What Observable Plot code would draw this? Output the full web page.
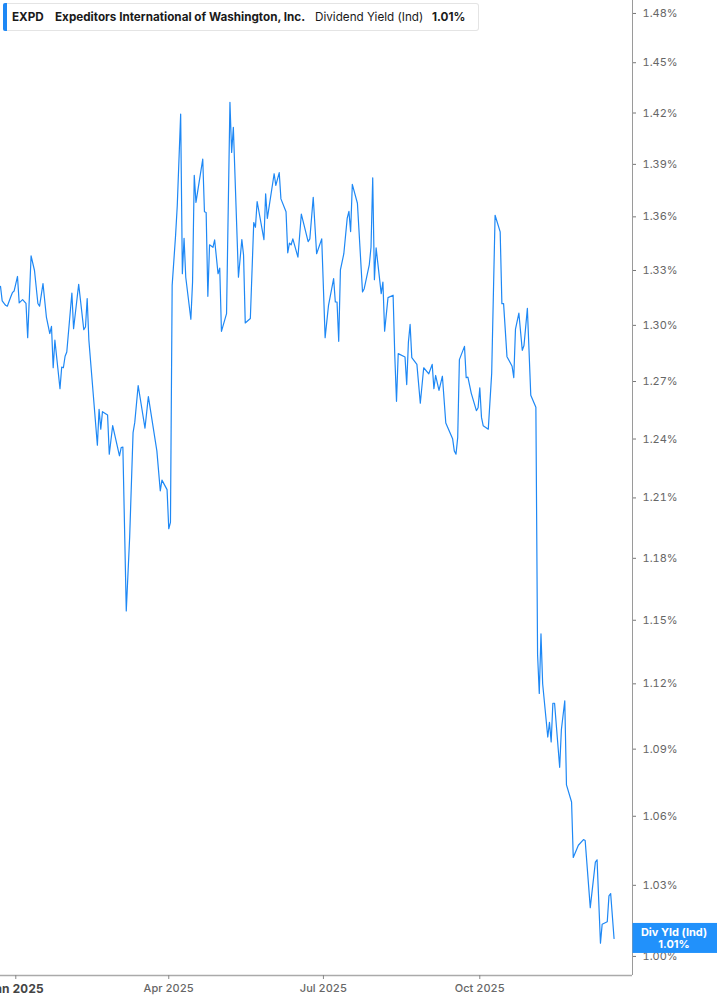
<!DOCTYPE html>
<html>
<head>
<meta charset="utf-8">
<script src="https://cdn.jsdelivr.net/npm/d3@7"></script>
<script src="https://cdn.jsdelivr.net/npm/@observablehq/plot@0.6"></script>
<style>
  html, body { margin: 0; padding: 0; background: #fff; }
  #wrap { position: relative; width: 717px; height: 1005px; overflow: hidden; font-family: Inter, Roboto, "DejaVu Sans", sans-serif; }
  #legend { position: absolute; left: 3px; top: 3px; width: 476px; height: 28px; background: #fff;
            border: 1px solid #e4e4e4; border-left: none; border-radius: 3px; box-sizing: border-box; }
  #legend .bar { position: absolute; left: 0; top: -1px; bottom: -1px; width: 4px; background: #1e88f5; border-radius: 2px 0 0 2px; }
  #legend span.t { position: absolute; top: 6px; font-size: 11.7px; color: #1a1a1a; white-space: nowrap; line-height: 14px; }
  #legend .b { font-weight: 700; }
</style>
</head>
<body>
<div id="wrap">
  <div id="chart"></div>
  <div id="legend">
    <div class="bar"></div>
    <span class="t b" id="l1"></span>
    <span class="t b" id="l2"></span>
    <span class="t" id="l3"></span>
    <span class="t b" id="l4"></span>
  </div>
</div>
<script>
// ---- data ----
const ticker = "EXPD";
const company = "Expeditors International of Washington, Inc.";
const metric = "Dividend Yield (Ind)";
const endLabel = "Div Yld (Ind)";

const dates = [
"2024-12-23","2024-12-24","2024-12-26","2024-12-27","2024-12-29","2024-12-30","2024-12-31",
"2025-01-02","2025-01-03","2025-01-05","2025-01-07","2025-01-08","2025-01-10","2025-01-12","2025-01-14","2025-01-15","2025-01-17","2025-01-19","2025-01-21","2025-01-22","2025-01-23","2025-01-24","2025-01-27","2025-01-28","2025-01-29","2025-01-30","2025-01-31",
"2025-02-03","2025-02-04","2025-02-07","2025-02-10","2025-02-11","2025-02-12","2025-02-13","2025-02-18","2025-02-19","2025-02-20","2025-02-21","2025-02-24","2025-02-25","2025-02-27",
"2025-03-03","2025-03-04","2025-03-05","2025-03-07","2025-03-09","2025-03-11","2025-03-12","2025-03-14","2025-03-18","2025-03-20","2025-03-25","2025-03-27","2025-03-28","2025-03-31",
"2025-04-01","2025-04-02","2025-04-03","2025-04-05","2025-04-06","2025-04-08","2025-04-09","2025-04-10","2025-04-11","2025-04-14","2025-04-15","2025-04-16","2025-04-17","2025-04-21","2025-04-22","2025-04-23","2025-04-24","2025-04-25","2025-04-27","2025-04-28","2025-04-30",
"2025-05-01","2025-05-02","2025-05-05","2025-05-07","2025-05-08","2025-05-09","2025-05-12","2025-05-14","2025-05-15","2025-05-16","2025-05-19","2025-05-21","2025-05-22","2025-05-23","2025-05-27","2025-05-28","2025-05-29",
"2025-06-02","2025-06-03","2025-06-05","2025-06-06","2025-06-09","2025-06-10","2025-06-11","2025-06-12","2025-06-13","2025-06-16","2025-06-18","2025-06-22","2025-06-23","2025-06-25","2025-06-27","2025-06-30",
"2025-07-02","2025-07-04","2025-07-07","2025-07-08","2025-07-09","2025-07-10","2025-07-11","2025-07-13","2025-07-15","2025-07-16","2025-07-17","2025-07-18","2025-07-21","2025-07-24","2025-07-25","2025-07-28","2025-07-29","2025-07-30","2025-07-31",
"2025-08-01","2025-08-04","2025-08-05","2025-08-06","2025-08-08","2025-08-11","2025-08-12","2025-08-13","2025-08-14","2025-08-18","2025-08-19","2025-08-20","2025-08-21","2025-08-22","2025-08-25","2025-08-27","2025-08-29",
"2025-09-01","2025-09-03","2025-09-04","2025-09-05","2025-09-07","2025-09-09","2025-09-11","2025-09-15","2025-09-16","2025-09-17","2025-09-18","2025-09-19","2025-09-22","2025-09-23","2025-09-24","2025-09-26","2025-09-29","2025-09-30",
"2025-10-01","2025-10-02","2025-10-03","2025-10-06","2025-10-08","2025-10-10","2025-10-13","2025-10-14","2025-10-15","2025-10-17","2025-10-20","2025-10-21","2025-10-22","2025-10-24","2025-10-26","2025-10-27","2025-10-29","2025-10-31",
"2025-11-03","2025-11-04","2025-11-05","2025-11-06","2025-11-07","2025-11-10","2025-11-11","2025-11-12","2025-11-13","2025-11-14","2025-11-17","2025-11-18","2025-11-20","2025-11-21","2025-11-24","2025-11-25","2025-11-28",
"2025-12-01","2025-12-02","2025-12-05","2025-12-08","2025-12-09","2025-12-11","2025-12-12","2025-12-15","2025-12-16","2025-12-17","2025-12-19"
];

// dividend yield, percent
const yields = [
1.3213,1.3133,1.3109,1.3104,1.3154,1.3178,1.3187,
1.3267,1.3122,1.3140,1.3119,1.2934,1.3381,1.3300,1.3119,1.3104,1.3228,1.3045,1.2956,1.2995,1.2773,1.2920,1.2662,1.2776,1.2773,1.2834,1.2857,
1.3176,1.2982,1.3224,1.2977,1.2991,1.3146,1.2920,1.2368,1.2554,1.2451,1.2542,1.2525,1.2322,1.2469,
1.2314,1.2356,1.2359,1.1545,1.1905,1.2433,1.2486,1.2679,1.2456,1.2621,1.2339,1.2136,1.2190,1.2142,
1.1946,1.1978,1.3218,1.3494,1.3663,1.4194,1.3282,1.3479,1.3263,1.3033,1.3236,1.3837,1.3682,1.3930,1.3629,1.3625,1.3158,1.3443,1.3429,1.3470,1.3282,
1.3313,1.2968,1.3064,1.4263,1.3969,1.4116,1.3263,1.3472,1.3387,1.3013,1.3037,1.3568,1.3541,1.3687,1.3472,1.3731,1.3591,
1.3846,1.3779,1.3852,1.3702,1.3629,1.3398,1.3452,1.3443,1.3476,1.3374,1.3616,1.3461,1.3476,1.3711,1.3393,1.3476,
1.2934,1.3109,1.3255,1.3127,1.3127,1.2914,1.3304,1.3393,1.3593,1.3631,1.3517,1.3785,1.3677,1.3182,1.3200,1.3333,1.3429,1.3823,1.3249,
1.3426,1.3173,1.3236,1.2969,1.3151,1.3164,1.2834,1.2596,1.2848,1.2830,1.2684,1.2910,1.3005,1.2827,1.2791,1.2586,1.2773,
1.2741,1.2791,1.2662,1.2732,1.2653,1.2728,1.2483,1.2402,1.2339,1.2322,1.2407,1.2816,1.2887,1.2720,1.2723,1.2638,1.2547,1.2562,
1.2667,1.2512,1.2469,1.2451,1.2743,1.3609,1.3515,1.3118,1.3118,1.2832,1.2781,1.2721,1.2980,1.3066,1.2866,1.2892,1.3092,1.2628,
1.2565,1.1337,1.1155,1.1435,1.1199,1.0955,1.1022,1.0933,1.1110,1.1110,1.0818,1.0988,1.1121,1.0739,1.0663,1.0420,1.0473,
1.0498,1.0494,1.0205,1.0400,1.0410,1.0055,1.0135,1.0145,1.0255,1.0265,1.0075
];

const yTicks = [1.00,1.03,1.06,1.09,1.12,1.15,1.18,1.21,1.24,1.27,1.30,1.33,1.36,1.39,1.42,1.45,1.48];
const xTicksMajor = ["2025-01-01"];
const xTicksMinor = ["2025-04-01","2025-07-01","2025-10-01"];
const xDomain = ["2024-12-23T00:00:00Z","2025-12-29T20:24:00Z"];
const yDomain = [0.9921, 1.488];

// ---- build ----
const data = dates.map((d, i) => ({date: new Date(d), value: yields[i]}));
const last = data[data.length - 1];
const fmt = v => v.toFixed(2) + "%";

document.getElementById("l1").textContent = ticker;
document.getElementById("l1").style.left = "9px";
document.getElementById("l2").textContent = company;
document.getElementById("l2").style.left = "52px";
document.getElementById("l3").textContent = metric;
document.getElementById("l3").style.left = "312px";
document.getElementById("l4").textContent = fmt(last.value);
document.getElementById("l4").style.left = "429px";

const lineColor = "#1e88f5";

const chart = Plot.plot({
  width: 717,
  height: 1005,
  marginLeft: 0,
  marginRight: 85,
  marginTop: 0,
  marginBottom: 30,
  style: {fontFamily: "Inter, Roboto, sans-serif", fontSize: "11px", color: "#666", background: "#fff"},
  x: {type: "utc", domain: xDomain.map(d => new Date(d)), label: null},
  y: {type: "log", domain: yDomain, label: null},
  marks: [
    Plot.ruleX([new Date(xDomain[1])], {stroke: "#9a9a9a", strokeWidth: 1}),
    Plot.ruleY([yDomain[0]], {stroke: "#aaaaaa", strokeWidth: 1.5}),
    Plot.axisY({anchor: "right", label: null, ticks: yTicks, tickFormat: fmt, tickSize: 3, tickPadding: 7, stroke: "#777", fill: "#666", fontSize: 11}),
    Plot.axisX({label: null, ticks: xTicksMinor.map(d => new Date(d)), tickFormat: d3.utcFormat("%b %Y"), tickSize: 4, tickPadding: 5, stroke: "#888", fill: "#666", fontSize: 11, fontWeight: 500}),
    Plot.axisX({label: null, ticks: xTicksMajor.map(d => new Date(d)), tickFormat: d3.utcFormat("%b %Y"), tickSize: 4, tickPadding: 5, stroke: "#888", fill: "#444", fontSize: 12, fontWeight: 700}),
    Plot.lineY(data, {x: "date", y: "value", stroke: lineColor, strokeWidth: 1.2})
  ]
});

document.getElementById("chart").appendChild(chart);

// end-of-series value tag in the right margin
const ys = chart.scale("y").apply(last.value);
const xr = chart.scale("x").range[1];
const svg = d3.select(chart);
const g = svg.append("g");
g.append("rect").attr("x", xr + 0.5).attr("y", ys - 15).attr("width", 717 - xr).attr("height", 30).attr("fill", "#2191fb");
g.append("text").attr("x", xr + 42).attr("y", ys - 5.5).attr("dy", "0.35em").attr("text-anchor", "middle")
  .attr("fill", "#fff").attr("font-weight", 700).attr("font-size", 11).text(endLabel);
g.append("text").attr("x", xr + 42).attr("y", ys + 6).attr("dy", "0.35em").attr("text-anchor", "middle")
  .attr("fill", "#fff").attr("font-weight", 700).attr("font-size", 11).text(fmt(last.value));
</script>
</body>
</html>
